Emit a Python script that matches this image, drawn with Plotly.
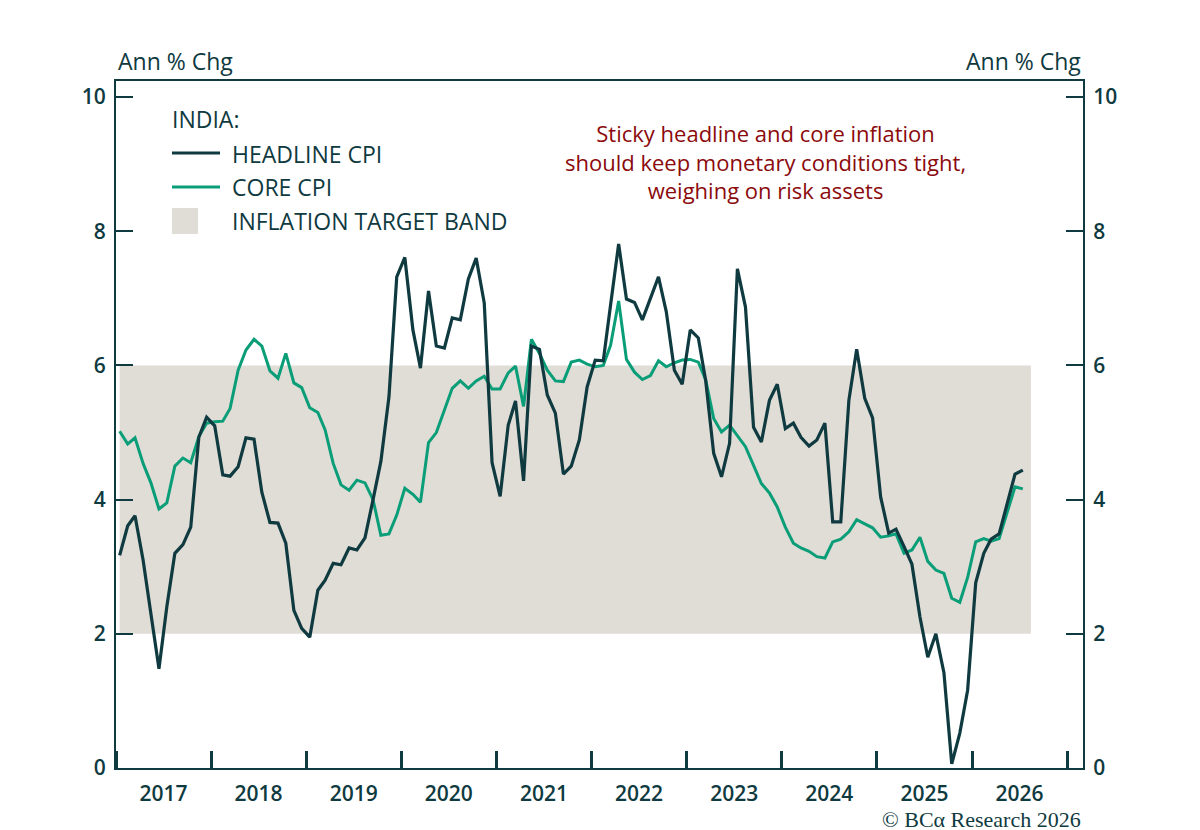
import pandas as pd
import plotly.graph_objects as go

# ---------------- data ----------------
start_month = "2017-01-01"

headline_cpi = [
    3.17, 3.61, 3.76, 3.10, 2.30, 1.48, 2.40, 3.20, 3.33, 3.59, 4.93, 5.23,   # 2017
    5.10, 4.37, 4.35, 4.49, 4.92, 4.90, 4.11, 3.66, 3.65, 3.35, 2.35, 2.08,   # 2018
    1.95, 2.65, 2.80, 3.05, 3.03, 3.28, 3.25, 3.43, 4.00, 4.57, 5.53, 7.32,   # 2019
    7.61, 6.53, 5.96, 7.11, 6.29, 6.26, 6.71, 6.68, 7.29, 7.60, 6.93, 4.55,   # 2020
    4.05, 5.11, 5.47, 4.28, 6.29, 6.24, 5.56, 5.29, 4.38, 4.50, 4.89, 5.68,   # 2021
    6.08, 6.07, 6.90, 7.81, 6.99, 6.94, 6.68, 7.00, 7.32, 6.80, 5.93, 5.72,   # 2022
    6.53, 6.41, 5.78, 4.69, 4.34, 4.84, 7.44, 6.87, 5.08, 4.86, 5.48, 5.72,   # 2023
    5.06, 5.14, 4.93, 4.80, 4.89, 5.14, 3.67, 3.67, 5.48, 6.24, 5.51, 5.22,   # 2024
    4.04, 3.50, 3.56, 3.30, 3.04, 2.25, 1.65, 2.00, 1.42, 0.06, 0.52, 1.16,   # 2025
    2.76, 3.20, 3.41, 3.49, 3.93, 4.38, 4.44,                                 # 2026
]

core_cpi = [
    5.02, 4.83, 4.92, 4.54, 4.25, 3.86, 3.95, 4.50, 4.62, 4.55, 4.94, 5.14,   # 2017
    5.16, 5.17, 5.36, 5.93, 6.23, 6.39, 6.29, 5.92, 5.81, 6.18, 5.74, 5.67,   # 2018
    5.37, 5.30, 5.04, 4.54, 4.22, 4.14, 4.29, 4.25, 4.00, 3.47, 3.49, 3.77,   # 2019
    4.17, 4.08, 3.96, 4.85, 5.00, 5.34, 5.66, 5.77, 5.66, 5.77, 5.84, 5.65,   # 2020
    5.65, 5.89, 5.99, 5.39, 6.39, 6.18, 5.93, 5.77, 5.76, 6.05, 6.08, 6.02,   # 2021
    5.98, 6.00, 6.30, 6.96, 6.09, 5.90, 5.79, 5.85, 6.07, 5.98, 6.04, 6.08,   # 2022
    6.09, 6.05, 5.79, 5.21, 5.01, 5.11, 4.95, 4.79, 4.51, 4.24, 4.10, 3.89,   # 2023
    3.59, 3.35, 3.28, 3.23, 3.15, 3.13, 3.37, 3.41, 3.52, 3.70, 3.64, 3.58,   # 2024
    3.44, 3.46, 3.49, 3.20, 3.25, 3.44, 3.08, 2.95, 2.90, 2.53, 2.47, 2.84,   # 2025
    3.37, 3.42, 3.38, 3.42, 3.80, 4.19, 4.16,                                 # 2026
]

band_low = 2
band_high = 6
band_start = "2017-01-15"
band_end = "2026-08-15"

y_ticks = [0, 2, 4, 6, 8, 10]
x_range = ["2017-01-01", "2027-03-03"]
y_range = [0, 10.24]

# ---------------- styling ----------------
DARK = "#0f3a40"
GREEN = "#0a9e78"
BAND = "#e0dcd6"
RED = "#8b0a0c"
FONT = "Open Sans"

dates = pd.date_range(start_month, periods=len(headline_cpi), freq="MS") + pd.Timedelta(days=14)

fig = go.Figure()

fig.add_shape(type="rect", xref="x", yref="y",
              x0=band_start, x1=band_end, y0=band_low, y1=band_high,
              fillcolor=BAND, line_width=0, layer="below")

fig.add_trace(go.Scatter(x=dates, y=core_cpi, mode="lines", name="CORE CPI",
                         line=dict(color=GREEN, width=3), showlegend=False))
fig.add_trace(go.Scatter(x=dates, y=headline_cpi, mode="lines", name="HEADLINE CPI",
                         line=dict(color=DARK, width=3.2), showlegend=False))
# invisible trace on the right axis so it renders
fig.add_trace(go.Scatter(x=[dates[0]], y=[None], yaxis="y2", showlegend=False,
                         hoverinfo="skip"))

tickfont = dict(family=FONT, size=21, color=DARK, weight=600)

fig.update_layout(
    width=1200, height=830,
    margin=dict(l=108, r=125, t=73, b=70),
    paper_bgcolor="white", plot_bgcolor="white",
    font=dict(family=FONT, color=DARK),
    xaxis=dict(type="date", range=x_range, showgrid=False, zeroline=False,
               showline=True, linecolor=DARK, linewidth=2, mirror=True,
               ticks="inside", ticklen=17, tickwidth=2.5, tickcolor=DARK,
               tick0="2017-01-01", dtick="M12", tickformat="%Y",
               ticklabelmode="period", tickfont=tickfont, ticklabelstandoff=6),
    yaxis=dict(range=y_range, tickvals=y_ticks, showgrid=False, zeroline=False,
               showline=True, linecolor=DARK, linewidth=2,
               ticks="inside", ticklen=17, tickwidth=2, tickcolor=DARK,
               tickfont=tickfont, ticklabelstandoff=4),
    yaxis2=dict(range=y_range, tickvals=y_ticks, overlaying="y", side="right",
                showgrid=False, zeroline=False,
                showline=True, linecolor=DARK, linewidth=2,
                ticks="inside", ticklen=17, tickwidth=2, tickcolor=DARK,
                tickfont=tickfont, ticklabelstandoff=4),
    showlegend=False,
)

def px_x(px):
    return (px - 116) / 967.0

def px_y(py):
    return (768 - py) / 687.0

ann = []
ann.append(dict(text="Ann % Chg", xref="paper", yref="paper", x=0, y=px_y(61),
                xanchor="left", yanchor="middle", showarrow=False,
                font=dict(family=FONT, size=23, color=DARK)))
ann.append(dict(text="Ann % Chg", xref="paper", yref="paper", x=1, y=px_y(61),
                xanchor="right", yanchor="middle", showarrow=False,
                font=dict(family=FONT, size=23, color=DARK)))
# legend
legend_font = dict(family=FONT, size=23, color=DARK)
ann.append(dict(text="INDIA:", xref="paper", yref="paper", x=px_x(170), y=px_y(119),
                xanchor="left", yanchor="middle", showarrow=False, font=legend_font))
for label, py in [("HEADLINE CPI", 154), ("CORE CPI", 187), ("INFLATION TARGET BAND", 221)]:
    ann.append(dict(text=label, xref="paper", yref="paper", x=px_x(230), y=px_y(py),
                    xanchor="left", yanchor="middle", showarrow=False, font=legend_font))
fig.add_shape(type="line", xref="paper", yref="paper", x0=px_x(172), x1=px_x(220),
              y0=px_y(153), y1=px_y(153), line=dict(color=DARK, width=3))
fig.add_shape(type="line", xref="paper", yref="paper", x0=px_x(172), x1=px_x(220),
              y0=px_y(187), y1=px_y(187), line=dict(color=GREEN, width=3))
fig.add_shape(type="rect", xref="paper", yref="paper", x0=px_x(172), x1=px_x(198),
              y0=px_y(234), y1=px_y(208), fillcolor=BAND, line_width=0)
# commentary
ann.append(dict(text="Sticky headline and core inflation<br>should keep monetary conditions tight,<br>weighing on risk assets",
                xref="paper", yref="paper", x=px_x(765), y=px_y(161),
                xanchor="center", yanchor="middle", align="center", showarrow=False,
                font=dict(family=FONT, size=22, color=RED, weight=500)))
# copyright
ann.append(dict(text="© BCα Research 2026", xref="paper", yref="paper", x=1, y=px_y(819),
                xanchor="right", yanchor="middle", showarrow=False,
                font=dict(family="Liberation Serif", size=22, color=DARK)))
fig.update_layout(annotations=ann)

fig.write_html("out.html")
